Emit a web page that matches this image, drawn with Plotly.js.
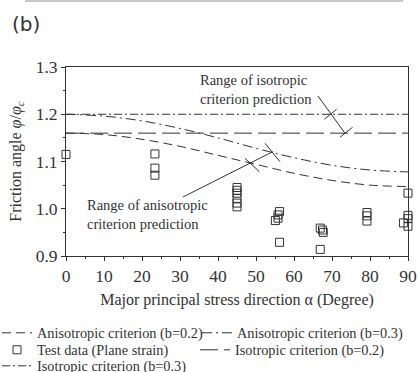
<!DOCTYPE html>
<html><head><meta charset="utf-8">
<script src="https://cdn.plot.ly/plotly-3.0.1.min.js"></script>
<style>html,body{margin:0;padding:0;background:#fff;}#chart{width:419px;height:372px;}</style>
</head><body><div id="chart"></div>
<script>
const alphaCurve = [0,10,20,30,40,50,60,70,80,90];
const anisoB02 = [1.160,1.157,1.147,1.132,1.113,1.094,1.075,1.060,1.050,1.047];
const anisoB03 = [1.200,1.196,1.186,1.170,1.150,1.128,1.108,1.092,1.082,1.078];
const alphaIso = [0,90];
const isoB02 = [1.16,1.16];
const isoB03 = [1.2,1.2];
const testAlpha = [0, 23.4,23.4,23.4, 45,45,45,45,45,45, 56.2,55.8,55.8,55.1,56.2, 66.9,67.5,67.7,66.9, 79.2,79.2,79.2, 90,90,90,88.8,90.5,90];
const testPhi   = [1.115, 1.116,1.086,1.071, 1.045,1.039,1.033,1.022,1.012,1.004, 0.994,0.987,0.980,0.975,0.929, 0.959,0.955,0.950,0.914, 0.992,0.985,0.974, 1.033,0.986,0.979,0.970,0.970,0.963];
const names = ['Anisotropic criterion (b=0.2)','Anisotropic criterion (b=0.3)','Test data (Plane strain)','Isotropic criterion (b=0.2)','Isotropic criterion (b=0.3)'];

const ink = '#333';
const serif = 'Liberation Serif, Times New Roman, serif';
const lw = 1;
const traces = [
  {x:alphaCurve, y:anisoB02, name:names[0], legend:'legend', mode:'lines', line:{color:ink,width:lw,dash:'9px,5px',shape:'spline'}},
  {x:alphaCurve, y:anisoB03, name:names[1], legend:'legend2', mode:'lines', line:{color:ink,width:lw,dash:'10px,4px,2px,4px',shape:'spline'}},
  {x:testAlpha, y:testPhi, name:names[2], legend:'legend3', mode:'markers', cliponaxis:false, marker:{symbol:'square-open',size:8,color:ink,line:{width:1,color:ink}}},
  {x:alphaIso, y:isoB02, name:names[3], legend:'legend4', mode:'lines', line:{color:ink,width:lw,dash:'18px,6px'}},
  {x:alphaIso, y:isoB03, name:names[4], legend:'legend5', mode:'lines', line:{color:ink,width:lw,dash:'8px,3px,2px,3px'}}
];

// figure: full-width paper (l=0), plot area x 66..408, y 67..256; paper y spans 67..372
const PH = 305;
function py(p){return (372-p)/PH;}
function px(p){return p/419;}

function seg(x0,y0,x1,y1){return {type:'line',xref:'x',yref:'y',x0:x0,y0:y0,x1:x1,y1:y1,line:{color:ink,width:1}};}
const shapes = [
  seg(66.3,1.2386,73.4,1.16),
  seg(68.0,1.1893,71.2,1.2105),
  seg(72.1,1.1512,75.4,1.1724),
  seg(30.8,1.0249,54.4,1.1207),
  seg(47.1,1.1068,50.9,1.0784),
  seg(52.4,1.1385,56.3,1.0996),
  {type:'line',xref:'paper',yref:'paper',x0:px(25),x1:px(403),y0:py(1),y1:py(1),line:{color:'#c8c8c8',width:2}}
];

const legFont = {family:serif,size:14.3,color:ink};
function leg(xp,yp){return {orientation:'h',x:px(xp),xanchor:'left',y:py(yp),yanchor:'middle',borderwidth:0,
  font:legFont,itemwidth:30,bgcolor:'rgba(255,255,255,0)'};}

const layout = {
  width:419, height:372,
  margin:{l:0,r:0,t:67,b:0,autoexpand:false},
  paper_bgcolor:'#fff', plot_bgcolor:'#fff',
  font:{family:serif,size:16,color:ink},
  showlegend:true,
  xaxis:{domain:[px(66),px(408)],range:[0,90],tickvals:[0,10,20,30,40,50,60,70,80,90],ticks:'outside',ticklen:4,tickwidth:1,tickcolor:ink,
    minor:{dtick:5,ticks:'outside',ticklen:2,tickcolor:ink},
    showline:true,linecolor:ink,linewidth:1,mirror:true,showgrid:false,zeroline:false,
    tickfont:{size:17.5},
    title:{text:'Major principal stress direction α (Degree)',font:{size:16},standoff:8}},
  yaxis:{domain:[py(256),1],range:[0.9,1.3],tickvals:[0.9,1.0,1.1,1.2,1.3],ticktext:['0.9','1.0','1.1','1.2','1.3'],ticks:'outside',ticklen:4,tickwidth:1,tickcolor:ink,
    minor:{dtick:0.05,ticks:'outside',ticklen:2,tickcolor:ink},
    showline:true,linecolor:ink,linewidth:1,mirror:true,showgrid:false,zeroline:false,
    tickfont:{size:17.5},
    title:{text:'Friction angle <i>φ</i>/<i>φ</i><sub><i>c</i></sub>',font:{size:16},standoff:10}},
  xaxis2:{domain:[px(1),px(409)],anchor:'y2',range:[0,1],side:'top',showline:true,linecolor:ink,linewidth:1,mirror:false,
    showticklabels:false,ticks:'',showgrid:false,zeroline:false,fixedrange:true},
  yaxis2:{domain:[0,py(320)],anchor:'x2',range:[0,1],showline:true,linecolor:ink,linewidth:1,mirror:true,
    showticklabels:false,ticks:'',showgrid:false,zeroline:false,fixedrange:true},
  legend:leg(-3,333),
  legend2:leg(197,333),
  legend3:leg(-3,350),
  legend4:leg(195,350),
  legend5:leg(-3,366),
  shapes:shapes,
  annotations:[
    {xref:'x',yref:'y',x:34.7,y:1.2524,xanchor:'left',yanchor:'middle',align:'left',showarrow:false,
     text:'Range of isotropic<br>criterion prediction',font:{family:serif,size:14.5,color:ink}},
    {xref:'x',yref:'y',x:5.0,y:0.9868,xanchor:'left',yanchor:'middle',align:'left',showarrow:false,
     text:'Range of anisotropic<br>criterion prediction',font:{family:serif,size:14.5,color:ink}},
    {xref:'paper',yref:'paper',x:px(25.5),y:py(24),xanchor:'center',yanchor:'middle',showarrow:false,
     text:'(b)',font:{family:'DejaVu Sans, sans-serif',size:20,color:ink}}
  ]
};
Plotly.newPlot('chart',traces,layout,{displayModeBar:false,staticPlot:true});
</script></body></html>
